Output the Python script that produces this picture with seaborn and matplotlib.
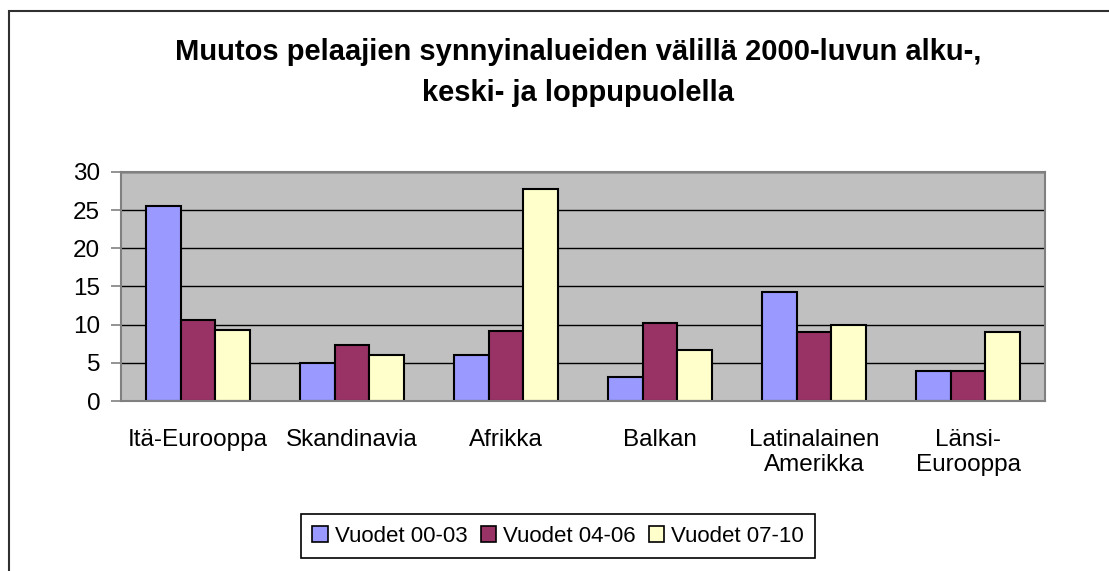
import pandas as pd
import matplotlib.pyplot as plt
import matplotlib.patches as mpatches
import seaborn as sns

alueet = ['Itä-Eurooppa', 'Skandinavia', 'Afrikka', 'Balkan',
          'Latinalainen\nAmerikka', 'Länsi-\nEurooppa']
jaksot = ['Vuodet 00-03', 'Vuodet 04-06', 'Vuodet 07-10']
v_00_03 = [25.5, 5.0, 6.0, 3.2, 14.3, 3.9]
v_04_06 = [10.6, 7.3, 9.2, 10.2, 9.0, 3.9]
v_07_10 = [9.3, 6.0, 27.8, 6.7, 10.0, 9.0]
varit = ['#9999FF', '#993366', '#FFFFCC']

df = pd.DataFrame({
    'alue': alueet * 3,
    'jakso': [j for j in jaksot for _ in alueet],
    'arvo': v_00_03 + v_04_06 + v_07_10,
})

sns.set_theme(style='white')
plt.rcParams['font.family'] = ['Liberation Sans', 'DejaVu Sans']
plt.rcParams['text.color'] = 'black'

fig = plt.figure(figsize=(11.09, 5.71), dpi=100)
ax = fig.add_axes([0.1091, 0.2977, 0.8332, 0.4011])

sns.barplot(data=df, x='alue', y='arvo', hue='jakso', palette=varit,
            width=0.675, edgecolor='black', linewidth=1.5, saturation=1,
            legend=False, ax=ax)

ax.set_facecolor('#C0C0C0')
ax.set_xlim(-0.5, 5.5)
ax.set_ylim(0, 30)
ax.set_yticks([0, 5, 10, 15, 20, 25, 30])
ax.set_xlabel('')
ax.set_ylabel('')
ax.yaxis.grid(True, color='black', linewidth=1)
ax.set_axisbelow(True)
for s in ax.spines.values():
    s.set_color('#808080')
    s.set_linewidth(1.5)

# rajaviivat luokkien välissä
ax.set_xticks([i - 0.5 for i in range(7)], minor=True)
ax.tick_params(axis='x', which='minor', length=7, width=1.2, color='#808080', direction='out')
ax.tick_params(axis='x', which='major', length=0, pad=20, labelsize=17.5, labelcolor='black')
ax.tick_params(axis='y', length=7, width=1.2, color='#808080', direction='out',
               pad=8, labelsize=17.5, labelcolor='black', left=True)

fig.text(0.521, 0.873, 'Muutos pelaajien synnyinalueiden välillä 2000-luvun alku-,\nkeski- ja loppupuolella',
         ha='center', va='center', fontsize=21, fontweight='bold', linespacing=1.6,
         color='black')

kahvat = [mpatches.Patch(facecolor=c, edgecolor='black', linewidth=1.2) for c in varit]
leg = fig.legend(kahvat, jaksot, loc='center', bbox_to_anchor=(558 / 1109, 1 - 536 / 571),
                 ncol=3, fontsize=16, frameon=True, fancybox=False, framealpha=1,
                 edgecolor='black', handlelength=0.7, handleheight=0.7,
                 handletextpad=0.3, columnspacing=0.6, borderpad=0.5)
leg.get_frame().set_linewidth(1.2)
for t in leg.get_texts():
    t.set_color('black')

# kehys koko kaavion ympärillä
fig.patches.append(mpatches.Rectangle((8.5 / 1109, -0.1), 1.2, 1 - 10.5 / 571 + 0.1,
                                      transform=fig.transFigure, fill=False,
                                      edgecolor='#303030', linewidth=1.5))

plt.savefig('out.png', dpi=100)
